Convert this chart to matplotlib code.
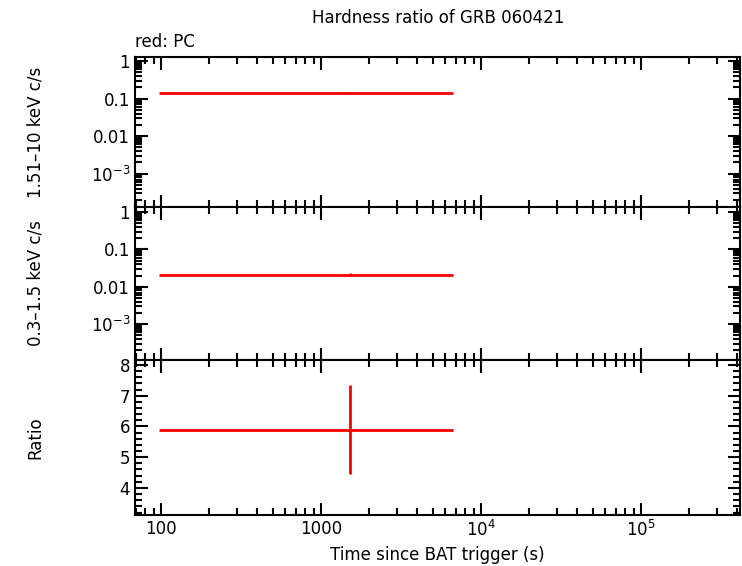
import matplotlib
matplotlib.use('Agg')
import matplotlib.pyplot as plt
from matplotlib.ticker import LogLocator, FixedLocator, NullFormatter

# data
t_mid = [1520]
t_lo = [97]
t_hi = [6650]
hard = [0.14]
hard_err = [0.008]
soft = [0.021]
soft_err = [0.002]
ratio = [5.89]
ratio_lo = [1.45]
ratio_hi = [1.45]

xerr = [[t_mid[0] - t_lo[0]], [t_hi[0] - t_mid[0]]]

fig = plt.figure(figsize=(7.42, 5.66), dpi=100)
W, H = 742, 566
def ax_at(top, bot):
    return fig.add_axes([135 / W, 1 - bot / H, (740 - 135) / W, (bot - top) / H])

ax1 = ax_at(57, 207)
ax2 = ax_at(207, 360)
ax3 = ax_at(360, 515)

red = '#ff0000'
kw = dict(fmt='none', ecolor=red, elinewidth=2, capsize=0)
ax1.errorbar(t_mid, hard, xerr=xerr, yerr=hard_err, **kw)
ax2.errorbar(t_mid, soft, xerr=xerr, yerr=soft_err, **kw)
ax3.errorbar(t_mid, ratio, xerr=xerr, yerr=[ratio_lo, ratio_hi], **kw)

def log_labels(v):
    return {1: '1', 0.1: '0.1', 0.01: '0.01', 1e-3: r'$10^{-3}$'}[v]

for ax, ylim in ((ax1, (1.3e-4, 1.28)), (ax2, (1.1e-4, 1.36))):
    ax.set_yscale('log')
    ax.set_ylim(*ylim)
    ax.yaxis.set_major_locator(FixedLocator([1e-3, 0.01, 0.1, 1]))
    ax.set_yticklabels([log_labels(v) for v in [1e-3, 0.01, 0.1, 1]])
    ax.yaxis.set_minor_locator(LogLocator(subs=range(2, 10)))
    ax.yaxis.set_minor_formatter(NullFormatter())

ax3.set_ylim(3.12, 8.16)
ax3.set_yticks([4, 5, 6, 7, 8])
ax3.set_yticks([x / 5 for x in range(16, 41)], minor=True)

for ax in (ax1, ax2, ax3):
    ax.set_xscale('log')
    ax.set_xlim(68.8, 416000)
    ax.xaxis.set_minor_locator(LogLocator(subs=range(2, 10)))
    ax.xaxis.set_minor_formatter(NullFormatter())
    ax.tick_params(which='both', direction='in', top=True, right=True, labelsize=12)
    ax.tick_params(which='major', length=9, width=1.5)
    ax.tick_params(which='minor', length=5, width=1.5)
    for s in ax.spines.values():
        s.set_linewidth(1.5)

ax1.tick_params(labelbottom=False)
ax2.tick_params(labelbottom=False)
ax3.set_xticks([100, 1000, 1e4, 1e5])
ax3.set_xticklabels(['100', '1000', r'$10^4$', r'$10^5$'])

ax1.set_ylabel('1.51–10 keV c/s', fontsize=12)
ax2.set_ylabel('0.3–1.5 keV c/s', fontsize=12)
ax3.set_ylabel('Ratio', fontsize=12)
for ax in (ax1, ax2, ax3):
    ax.yaxis.set_label_coords(-0.15, 0.5)
ax3.set_xlabel('Time since BAT trigger (s)', fontsize=12)

fig.text(438 / W, 1 - 18 / H, 'Hardness ratio of GRB 060421', ha='center', va='center', fontsize=12)
fig.text(135 / W, 1 - 42 / H, 'red: PC', ha='left', va='center', fontsize=12)

fig.savefig('out.png', dpi=100)
